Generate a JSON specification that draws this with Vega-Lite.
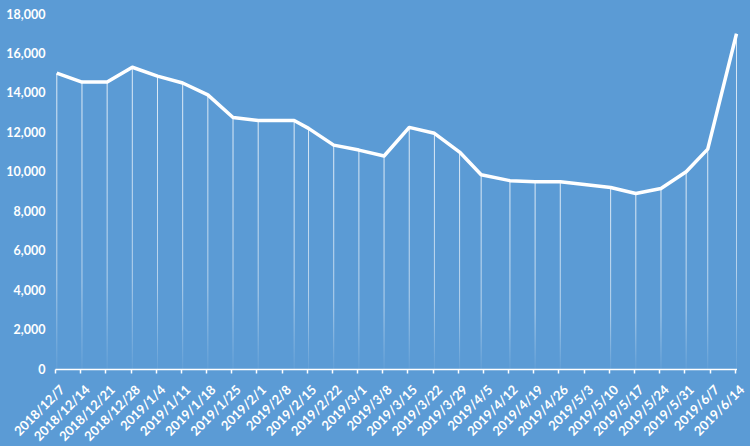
{
  "$schema": "https://vega.github.io/schema/vega-lite/v6.json",
  "width": 681.5,
  "height": 355,
  "autosize": {"type": "none"},
  "padding": {"left": 55, "top": 14, "right": 13.5, "bottom": 77},
  "background": "#5B9BD5",
  "config": {"view": {"stroke": null}, "font": "Lato"},
  "data": {
    "values": [
      {"date": "2018-12-07T12:00:00", "price": 15000},
      {"date": "2018-12-14T12:00:00", "price": 14550},
      {"date": "2018-12-21T12:00:00", "price": 14550},
      {"date": "2018-12-28T12:00:00", "price": 15300},
      {"date": "2019-01-04T12:00:00", "price": 14850},
      {"date": "2019-01-11T12:00:00", "price": 14500},
      {"date": "2019-01-18T12:00:00", "price": 13900},
      {"date": "2019-01-25T12:00:00", "price": 12750},
      {"date": "2019-02-01T12:00:00", "price": 12600},
      {"date": "2019-02-11T12:00:00", "price": 12600},
      {"date": "2019-02-15T12:00:00", "price": 12200},
      {"date": "2019-02-22T12:00:00", "price": 11350},
      {"date": "2019-03-01T12:00:00", "price": 11100},
      {"date": "2019-03-08T12:00:00", "price": 10800},
      {"date": "2019-03-15T12:00:00", "price": 12250},
      {"date": "2019-03-22T12:00:00", "price": 11950},
      {"date": "2019-03-29T12:00:00", "price": 11000},
      {"date": "2019-04-04T12:00:00", "price": 9850},
      {"date": "2019-04-12T12:00:00", "price": 9550},
      {"date": "2019-04-19T12:00:00", "price": 9500},
      {"date": "2019-04-26T12:00:00", "price": 9500},
      {"date": "2019-05-10T12:00:00", "price": 9200},
      {"date": "2019-05-17T12:00:00", "price": 8900},
      {"date": "2019-05-24T12:00:00", "price": 9150},
      {"date": "2019-05-31T12:00:00", "price": 10000},
      {"date": "2019-06-06T12:00:00", "price": 11150},
      {"date": "2019-06-14T12:00:00", "price": 17000}
    ]
  },
  "encoding": {
    "x": {
      "field": "date",
      "type": "temporal",
      "scale": {"domain": [{"year": 2018, "month": 12, "date": 7}, {"year": 2019, "month": 6, "date": 14, "hours": 12}], "padding": 0, "nice": false},
      "axis": {
        "title": null,
        "grid": false,
        "values": [
          {"year": 2018, "month": 12, "date": 7},
          {"year": 2018, "month": 12, "date": 14},
          {"year": 2018, "month": 12, "date": 21},
          {"year": 2018, "month": 12, "date": 28},
          {"year": 2019, "month": 1, "date": 4},
          {"year": 2019, "month": 1, "date": 11},
          {"year": 2019, "month": 1, "date": 18},
          {"year": 2019, "month": 1, "date": 25},
          {"year": 2019, "month": 2, "date": 1},
          {"year": 2019, "month": 2, "date": 8},
          {"year": 2019, "month": 2, "date": 15},
          {"year": 2019, "month": 2, "date": 22},
          {"year": 2019, "month": 3, "date": 1},
          {"year": 2019, "month": 3, "date": 8},
          {"year": 2019, "month": 3, "date": 15},
          {"year": 2019, "month": 3, "date": 22},
          {"year": 2019, "month": 3, "date": 29},
          {"year": 2019, "month": 4, "date": 5},
          {"year": 2019, "month": 4, "date": 12},
          {"year": 2019, "month": 4, "date": 19},
          {"year": 2019, "month": 4, "date": 26},
          {"year": 2019, "month": 5, "date": 3},
          {"year": 2019, "month": 5, "date": 10},
          {"year": 2019, "month": 5, "date": 17},
          {"year": 2019, "month": 5, "date": 24},
          {"year": 2019, "month": 5, "date": 31},
          {"year": 2019, "month": 6, "date": 7},
          {"year": 2019, "month": 6, "date": 14}
        ],
        "format": "%Y/%-m/%-d",
        "labelAngle": -45,
        "labelColor": "white",
        "labelFontWeight": "bold",
        "labelFontSize": 13,
        "labelOverlap": false,
        "labelFlush": false,
        "labelPadding": 10,
        "labelOffset": 3,
        "domainColor": "white",
        "domainWidth": 1.5,
        "tickColor": "white",
        "tickSize": 4,
        "tickWidth": 1.5
      }
    },
    "y": {
      "field": "price",
      "type": "quantitative",
      "scale": {"domain": [0, 18000], "nice": false},
      "axis": {
        "title": null,
        "grid": false,
        "domain": false,
        "ticks": false,
        "values": [0, 2000, 4000, 6000, 8000, 10000, 12000, 14000, 16000, 18000],
        "format": ",.0f",
        "labelColor": "white",
        "labelFontWeight": "bold",
        "labelFontSize": 12.5,
        "labelPadding": 10
      }
    }
  },
  "layer": [
    {
      "mark": {
        "type": "bar",
        "width": 1,
        "fill": {
          "gradient": "linear",
          "x1": 0, "y1": 0, "x2": 0, "y2": 1,
          "stops": [
            {"offset": 0, "color": "rgba(255,255,255,0.8)"},
            {"offset": 0.7, "color": "rgba(255,255,255,0.55)"},
            {"offset": 1, "color": "rgba(255,255,255,0.05)"}
          ]
        }
      }
    },
    {
      "mark": {"type": "line", "color": "white", "strokeWidth": 3.5, "strokeJoin": "round"}
    }
  ]
}
